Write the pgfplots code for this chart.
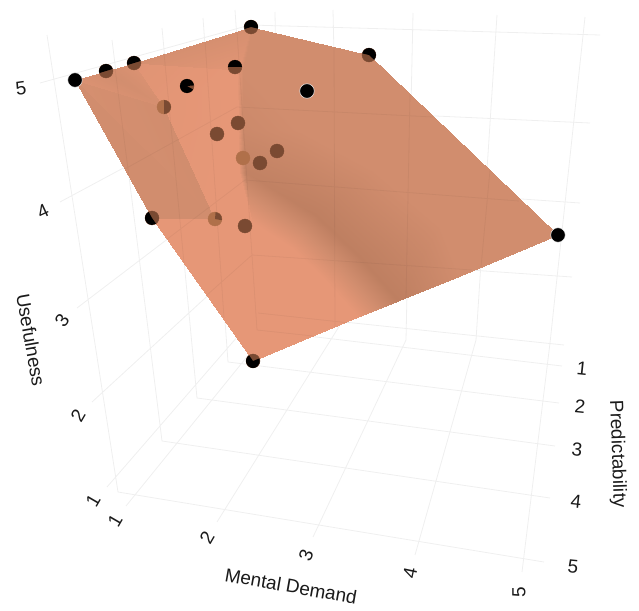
\documentclass[border=0pt]{standalone}
\usepackage{fontspec}
\setmainfont{Liberation Sans}
\usepackage{pgfplots}
\pgfplotsset{compat=1.18}
\usepackage{pgfplotstable}

\definecolor{gridc}{HTML}{EFEFEF}
\definecolor{ink}{HTML}{1A1A1A}
\definecolor{brown1}{HTML}{7A4A32}
\definecolor{brown2}{HTML}{B0704A}

% circle sector marks, for points that stick out of the surface
\newcommand{\secmark}[3]{%
  \pgfdeclareplotmark{#1}{%
    \pgfpathmoveto{\pgfpointorigin}%
    \pgfpathlineto{\pgfpointpolar{#2}{\pgfplotmarksize}}%
    \pgfpatharc{#2}{#3}{\pgfplotmarksize}%
    \pgfpathclose\pgfusepathqfill}}
\secmark{secA}{17}{197}
\secmark{secD}{-13}{197}
\secmark{secG}{-43}{167}
\secmark{secI}{125}{382}
\secmark{secJ}{119}{305}
\secmark{secF}{5}{330}
\secmark{secE}{0}{180}
\secmark{secP}{-90}{90}
\secmark{secQ}{-10}{85}

% grid in image pixels: usefulness, predictability, mental demand
\pgfplotstableread{
x y
40 83
250 25
600 35
nan nan
60 202
237 107
590 123
nan nan
77 308
245 180
580 203
nan nan
92 402
252 255
572 277
nan nan
107 487
258 313
564 345
nan nan
47 35
118 492
544 562
nan nan
112 40
162 441
550 498
nan nan
162 28
197 398
555 446
nan nan
203 18
228 362
559 403
nan nan
235 10
257 330
562 366
nan nan
126 506
280 316
275 12
nan nan
217 522
340 325
333 10
nan nan
313 537
406 340
413 13
nan nan
415 555
476 340
497 15
nan nan
522 572
550 343
585 17
}\gridtab

% the part of the grid that shows through the surface
\pgfplotstableread{
x y
123 170
237 107
433 117
nan nan
166 240
245 180
519 201
nan nan
207 295
252 255
472 270
nan nan
115 68
129 177
nan nan
164 53
184 263
nan nan
205 41
224 318
nan nan
237 32
257 330
313 336
nan nan
258 313
350 323
nan nan
334 47
335 327
nan nan
410 94
406 298
nan nan
490 170
481 267
}\gridunder

% surface triangles: x y shade (0 dark, 0.5 mid, 1 bright)
\pgfplotstableread{
x y m
251 27 .5
369 55 .5
300 130 .5
369 55 .5
375 170 .5
300 130 .5
369 55 .5
440 225 .5
375 170 .5
369 55 .5
558 235 .5
440 225 .5
558 235 .5
460 276 .5
440 225 .5
251 27 .5
243 70 .5
300 130 .5
243 70 .5
243 130 .35
300 130 .5
243 130 .35
245 172 .1
315 215 0
243 130 .35
315 215 0
300 130 .5
300 130 .5
315 215 0
375 170 .5
315 215 0
358 256 0
375 170 .5
375 170 .5
358 256 0
440 225 .5
358 256 0
398 301 0
440 225 .5
398 301 0
460 276 .5
440 225 .5
245 172 .1
252 222 1
315 215 0
252 222 1
292 248 1
315 215 0
315 215 0
292 248 1
358 256 0
292 248 1
325 280 1
358 256 0
325 280 1
358 317 1
358 256 0
358 256 0
358 317 1
398 301 0
253 361 1
358 317 1
325 280 1
253 361 1
325 280 1
292 248 1
253 361 1
292 248 1
252 222 1
237 70 1
238 130 1
243 130 .35
237 70 1
243 130 .35
243 70 .5
238 130 1
239 172 1
245 172 .1
238 130 1
245 172 .1
243 130 .35
239 172 1
252 222 1
245 172 .1
251 27 .6
237 70 1
243 70 .5
75 80 .6
164 107 .5
215 219 .5
75 80 .5
215 219 .5
152 218 .5
75 80 .75
106 71 .5
164 107 .6
106 71 .5
134 63 .75
164 107 .6
134 63 .85
237 70 1
164 107 .95
134 63 .6
251 27 .6
237 70 .9
237 70 1
238 130 1
164 107 .95
238 130 1
239 172 1
215 219 1
238 130 1
215 219 1
164 107 .95
239 172 1
252 222 1
215 219 1
215 219 1
252 222 1
253 361 1
215 219 1
253 361 1
152 218 1
}\meshtab

\begin{document}
\begin{tikzpicture}
\begin{axis}[
    scale only axis,
    width=639bp,
    height=611bp,
    xmin=0, xmax=639,
    ymin=0, ymax=611,
    y dir=reverse,
    hide axis,
    clip=false,
    colormap={peach}{rgb255(0cm)=(190,127,97); rgb255(1cm)=(209,141,110); rgb255(2cm)=(230,151,119)},
    point meta min=0, point meta max=1,
    every axis plot/.append style={forget plot},
]
\addplot[draw=none] coordinates {(0,0) (639,611)};
\addplot[gridc, line width=0.8bp, unbounded coords=jump] table {\gridtab};
\addplot[patch, shader=interp, patch type=triangle] table[point meta=\thisrow{m}] {\meshtab};
\addplot[black, opacity=0.04, line width=0.8bp, unbounded coords=jump] table {\gridunder};

% points under the surface
\addplot[only marks, color=brown1, mark=*, mark size=7] coordinates {
  (238,123) (217,134) (277,151) (260,163) (245,226)
  (106,71) (134,63) (187,86) (235,67) (251,27) (369,55) (253,361) (152,218)
};
\addplot[only marks, color=brown2, mark=*, mark size=7] coordinates {
  (243,158) (164,107) (215,219)
};
\addplot[only marks, mark=secP, mark size=7, mark options={fill=brown1}] coordinates {(164,107)};
\addplot[only marks, mark=secQ, mark size=7, mark options={fill=brown1}] coordinates {(215,219)};

% points above the surface
\addplot[only marks, mark=*, mark size=7.3, mark options={draw=white, line width=0.5bp, fill=black}] coordinates {
  (75,80) (307,91) (558,235)
};
\addplot[only marks, mark=secA, mark size=7, mark options={fill=black}] coordinates {(106,71) (134,63)};
\addplot[only marks, mark=secD, mark size=7, mark options={fill=black}] coordinates {(251,27)};
\addplot[only marks, mark=secG, mark size=7, mark options={fill=black}] coordinates {(369,55)};
\addplot[only marks, mark=secI, mark size=7, mark options={fill=black}] coordinates {(253,361)};
\addplot[only marks, mark=secJ, mark size=7, mark options={fill=black}] coordinates {(152,218)};
\addplot[only marks, mark=secF, mark size=7, mark options={fill=black}] coordinates {(187,86)};
\addplot[only marks, mark=secE, mark size=7, mark options={fill=black}] coordinates {(235,67)};

\tikzset{lab/.style={text=ink, font=\fontsize{19}{19}\selectfont, inner sep=0pt}}
% usefulness
\node[lab, rotate=8] at (axis cs:21,88) {5};
\node[lab, rotate=25] at (axis cs:43,211) {4};
\node[lab, rotate=55] at (axis cs:62,320) {3};
\node[lab, rotate=60] at (axis cs:78,416) {2};
\node[lab, rotate=60] at (axis cs:93,501) {1};
\node[lab, rotate=-80] at (axis cs:31,340) {Usefulness};
% mental demand
\node[lab, rotate=60] at (axis cs:115,521) {1};
\node[lab, rotate=60] at (axis cs:207,538) {2};
\node[lab, rotate=70] at (axis cs:306,555) {3};
\node[lab, rotate=78] at (axis cs:410,573) {4};
\node[lab, rotate=90] at (axis cs:519,592) {5};
\node[lab, rotate=-10] at (axis cs:291,586) {Mental Demand};
% predictability
\node[lab, rotate=-6] at (axis cs:582,369) {1};
\node[lab, rotate=-6] at (axis cs:580,406) {2};
\node[lab, rotate=-6] at (axis cs:577,450) {3};
\node[lab, rotate=-6] at (axis cs:576,502) {4};
\node[lab, rotate=-6] at (axis cs:573,567) {5};
\node[lab, rotate=-88] at (axis cs:617,454) {Predictability};
\end{axis}
\end{tikzpicture}
\end{document}
